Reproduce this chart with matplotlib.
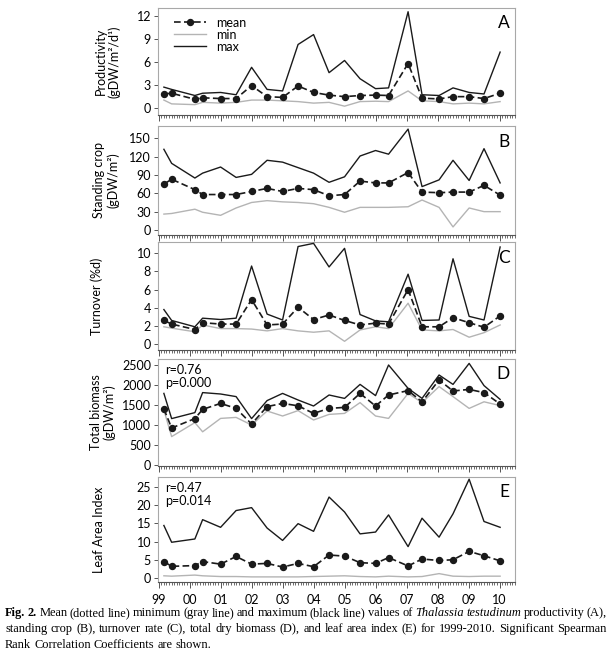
import numpy as np
import matplotlib
matplotlib.use('Agg')
import matplotlib.pyplot as plt
from matplotlib.ticker import MultipleLocator, FixedLocator

# ─────────────────────────────────────────
# DATA
# ─────────────────────────────────────────

# sampling dates as decimal years
DATES = [1999.17, 1999.42, 2000.17, 2000.42, 2001.0, 2001.5, 2002.0, 2002.5,
         2003.0, 2003.5, 2004.0, 2004.5, 2005.0, 2005.5, 2006.0, 2006.42,
         2007.05, 2007.5, 2008.05, 2008.5, 2009.02, 2009.5, 2010.02]

YEAR_TICKS = list(range(1999, 2011))
YEAR_LABELS = ['99', '00', '01', '02', '03', '04', '05', '06', '07', '08', '09', '10']

prod_mean = [1.8, 1.9, 1.1, 1.3, 1.2, 1.2, 2.9, 1.45, 1.35, 2.85, 2.0, 1.65,
             1.45, 1.6, 1.65, 1.6, 5.8, 1.25, 1.15, 1.45, 1.45, 1.2, 1.9]
prod_min = [1.0, 0.5, 0.4, 0.7, 0.6, 0.7, 1.0, 1.0, 0.9, 0.8, 0.6, 0.7,
            0.2, 0.8, 0.85, 0.8, 2.2, 0.9, 0.8, 0.5, 0.6, 0.5, 0.8]
prod_max = [2.7, 2.4, 1.6, 1.9, 2.0, 1.7, 5.3, 2.4, 2.2, 8.3, 9.6, 4.6,
            6.2, 3.8, 2.5, 2.6, 12.6, 1.7, 1.6, 2.6, 2.0, 1.8, 7.3]

crop_mean = [75, 83, 66, 58, 58, 58, 63, 68, 63, 68, 66, 56,
             58, 80, 77, 77, 94, 62, 61, 62, 62, 73, 57]
crop_min = [26, 27, 34, 29, 24, 36, 45, 48, 46, 45, 43, 37,
            29, 37, 37, 37, 38, 49, 37, 5, 36, 30, 30]
crop_max = [132, 109, 85, 93, 103, 86, 91, 114, 111, 102, 93, 78,
            87, 121, 130, 124, 165, 71, 82, 114, 81, 133, 77]

turn_mean = [2.6, 2.2, 1.6, 2.35, 2.2, 2.2, 4.9, 2.1, 2.2, 4.05, 2.7, 3.2,
             2.6, 2.1, 2.3, 2.2, 6.0, 1.9, 1.9, 2.9, 2.35, 1.85, 3.1]
turn_min = [1.9, 1.75, 1.35, 2.1, 1.7, 1.7, 1.65, 1.45, 1.7, 1.45, 1.3, 1.45,
            0.3, 1.55, 1.9, 1.7, 4.5, 1.55, 1.45, 1.6, 0.75, 1.25, 2.1]
turn_max = [3.8, 2.6, 1.9, 2.85, 2.7, 2.85, 8.6, 3.3, 2.65, 10.75, 11.1, 8.5,
            10.55, 3.25, 2.55, 2.45, 7.7, 2.6, 2.65, 9.4, 3.05, 2.65, 10.7]

bio_mean = [1400, 925, 1160, 1390, 1540, 1415, 1025, 1460, 1540, 1480, 1290, 1415,
            1440, 1790, 1475, 1750, 1860, 1580, 2125, 1850, 1890, 1810, 1525]
bio_min = [1375, 710, 1060, 830, 1165, 1190, 1000, 1350, 1225, 1360, 1125, 1265,
           1290, 1560, 1225, 1165, 1790, 1560, 1960, 1710, 1415, 1580, 1485]
bio_max = [1790, 1160, 1310, 1810, 1775, 1710, 1160, 1610, 1790, 1625, 1475, 1750,
           1665, 2015, 1735, 2500, 1915, 1665, 2250, 2015, 2540, 1985, 1640]

lai_mean = [4.5, 3.2, 3.4, 4.5, 3.8, 5.9, 3.8, 4.0, 3.0, 4.0, 3.1, 6.3,
            6.0, 4.2, 4.0, 5.6, 3.3, 5.2, 4.8, 5.0, 7.3, 6.1, 4.7]
lai_min = [0.6, 0.5, 0.8, 0.6, 0.4, 0.4, 0.3, 0.3, 0.3, 0.3, 0.4, 0.5,
           0.6, 0.4, 0.3, 0.5, 0.3, 0.4, 1.2, 0.5, 0.4, 0.5, 0.5]
lai_max = [14.4, 9.8, 10.7, 16.0, 13.9, 18.5, 19.3, 13.7, 10.3, 14.9, 12.8, 22.2,
           18.1, 12.1, 12.6, 17.3, 8.6, 16.4, 11.2, 17.6, 27.1, 15.5, 13.9]

CAPTION_LINES = [
    [('Fig. 2.', 'bold', 'normal'),
     ('Mean (dotted line) minimum (gray line) and maximum (black line) values of',
      'normal', 'normal'),
     ('Thalassia testudinum', 'normal', 'italic'),
     ('productivity (A),', 'normal', 'normal')],
    [('standing crop (B), turnover rate (C), total dry biomass (D), and leaf area '
      'index (E) for 1999-2010. Significant Spearman', 'normal', 'normal')],
    [('Rank Correlation Coefficients are shown.', 'normal', 'normal')],
]

# ─────────────────────────────────────────
# PANEL CONFIG
# ─────────────────────────────────────────

W, H = 610, 660
AX_LEFT, AX_RIGHT = 158, 515

PANELS = [
    dict(letter='A', mean=prod_mean, mn=prod_min, mx=prod_max,
         label='Productivity\n(gDW/m\u00b2/d\u00b9)', top=8, bottom=115,
         ylim=(-0.96, 13.09), yticks=[0, 3, 6, 9, 12], labx=-0.105, stats=None),
    dict(letter='B', mean=crop_mean, mn=crop_min, mx=crop_max,
         label='Standing crop\n(gDW/m\u00b2)', top=126, bottom=235,
         ylim=(-8.2, 170.1), yticks=[0, 30, 60, 90, 120, 150], labx=-0.108, stats=None),
    dict(letter='C', mean=turn_mean, mn=turn_min, mx=turn_max,
         label='Turnover (%d)', top=242, bottom=350,
         ylim=(-0.66, 11.25), yticks=[0, 2, 4, 6, 8, 10], labx=-0.155, stats=None),
    dict(letter='D', mean=bio_mean, mn=bio_min, mx=bio_max,
         label='Total biomass\n(gDW/m\u00b2)', top=359, bottom=466,
         ylim=(-25, 2650), yticks=[0, 500, 1000, 1500, 2000, 2500], labx=-0.118,
         stats='r=0.76\np=0.000'),
    dict(letter='E', mean=lai_mean, mn=lai_min, mx=lai_max,
         label='Leaf Area Index', top=477, bottom=582,
         ylim=(-1.1, 27.7), yticks=[0, 5, 10, 15, 20, 25], labx=-0.148,
         stats='r=0.47\np=0.014'),
]

SANS = ['Lato', 'DejaVu Sans']
SERIF = ['Liberation Serif', 'DejaVu Serif']
FRAME = '#a8a8a8'
MIN_GRAY = '#b4b4b4'
FS = 9

plt.rcParams['font.family'] = SANS
plt.rcParams['font.size'] = FS


def draw_panel(fig, p, last):
    rect = [AX_LEFT / W, 1 - p['bottom'] / H,
            (AX_RIGHT - AX_LEFT) / W, (p['bottom'] - p['top']) / H]
    ax = fig.add_axes(rect)

    ax.plot(DATES, p['mn'], color=MIN_GRAY, lw=1.0, label='min', zorder=2)
    ax.plot(DATES, p['mx'], color='#1a1a1a', lw=1.0, label='max', zorder=3)
    ax.plot(DATES, p['mean'], color='#1a1a1a', lw=1.2, dashes=(4, 2),
            marker='o', ms=4.3, label='mean', zorder=4)

    ax.set_xlim(1998.98, 2010.5)
    ax.set_ylim(*p['ylim'])
    ax.yaxis.set_major_locator(FixedLocator(p['yticks']))
    ax.xaxis.set_major_locator(FixedLocator(YEAR_TICKS))
    ax.xaxis.set_minor_locator(MultipleLocator(1 / 12))

    for side in ['top', 'left', 'right']:
        ax.spines[side].set_color(FRAME)
        ax.spines[side].set_linewidth(0.8)
    ax.spines['bottom'].set_color('#555555')
    ax.spines['bottom'].set_linewidth(0.8)

    ax.tick_params(axis='y', direction='out', length=3, width=0.7,
                   color='#555555', labelsize=FS, pad=2)
    ax.tick_params(axis='x', which='major', direction='out', length=4,
                   width=0.7, color='#555555')
    ax.tick_params(axis='x', which='minor', direction='out', length=2.2,
                   width=0.6, color='#555555')
    if last:
        ax.set_xticklabels(YEAR_LABELS, fontsize=FS)
        ax.tick_params(axis='x', which='major', pad=5)
    else:
        ax.set_xticklabels([])

    ax.set_ylabel(p['label'], fontsize=FS, linespacing=1.15)
    ax.yaxis.set_label_coords(p['labx'], 0.5)

    ax.text(0.985, 0.93, p['letter'], transform=ax.transAxes, ha='right',
            va='top', fontsize=12.5)
    if p['stats']:
        ax.text(0.02, 0.95, p['stats'], transform=ax.transAxes, ha='left',
                va='top', fontsize=FS, linespacing=1.05)

    if p['letter'] == 'A':
        h, l = ax.get_legend_handles_labels()
        order = [2, 0, 1]
        ax.legend([h[i] for i in order], [l[i] for i in order], loc='upper left',
                  frameon=False, fontsize=FS, handlelength=2.6, labelspacing=0.0,
                  borderaxespad=0.3, bbox_to_anchor=(0.02, 1.0), handletextpad=0.8)
    return ax


# ─────────────────────────────────────────
# CAPTION (mixed bold / italic runs, justified)
# ─────────────────────────────────────────

def draw_caption_line(fig, runs, x0, x1, y, size, justify):
    renderer = fig.canvas.get_renderer()
    words = []
    for txt, weight, style in runs:
        for w in txt.split(' '):
            words.append((w, weight, style))

    probe = fig.text(0, 0, 'x x', fontsize=size, family=SERIF)
    probe2 = fig.text(0, 0, 'xx', fontsize=size, family=SERIF)
    space = (probe.get_window_extent(renderer).width
             - probe2.get_window_extent(renderer).width)
    probe.remove()
    probe2.remove()

    artists, widths = [], []
    for w, weight, style in words:
        t = fig.text(0, 1 - y / H, w, fontsize=size, family=SERIF,
                     weight=weight, style=style, va='baseline', ha='left')
        artists.append(t)
        widths.append(t.get_window_extent(renderer).width)

    gap = space
    if justify and len(words) > 1:
        gap = (x1 - x0 - sum(widths)) / (len(words) - 1)

    x = x0
    for t, wd in zip(artists, widths):
        t.set_x(x / W)
        x += wd + gap


def draw_caption(fig):
    size = 8.9
    ys = [616, 632, 648]
    for i, runs in enumerate(CAPTION_LINES):
        draw_caption_line(fig, runs, 5, 607, ys[i], size,
                          justify=(i < len(CAPTION_LINES) - 1))


def main():
    fig = plt.figure(figsize=(W / 100, H / 100), dpi=100)
    for i, p in enumerate(PANELS):
        draw_panel(fig, p, last=(i == len(PANELS) - 1))
    fig.canvas.draw()
    draw_caption(fig)
    fig.savefig('out.png', dpi=100)


if __name__ == '__main__':
    main()
